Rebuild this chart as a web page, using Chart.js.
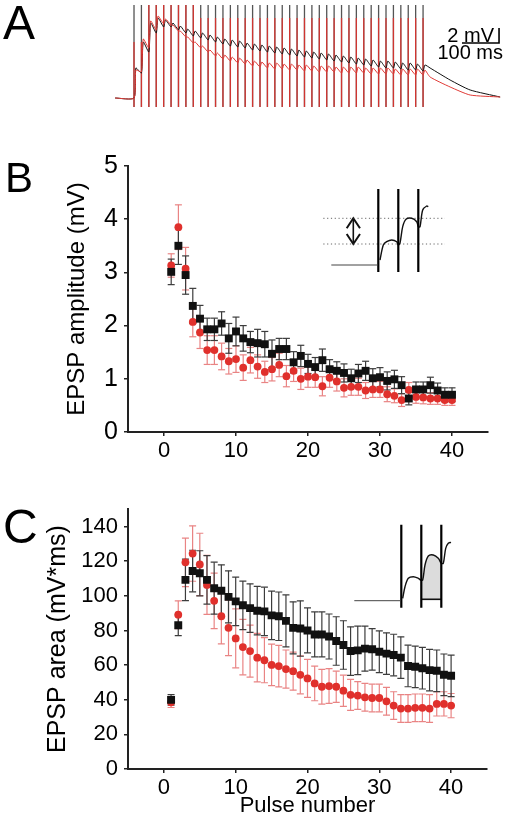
<!DOCTYPE html>
<html><head><meta charset="utf-8">
<script src="https://cdn.jsdelivr.net/npm/chart.js@4.4.1/dist/chart.umd.min.js"></script>
<style>
html,body{margin:0;padding:0;background:#fff;}
body{width:506px;height:826px;overflow:hidden;position:relative;font-family:"Liberation Sans",Arial,sans-serif;}
canvas{position:absolute;}
.lbl{position:absolute;color:#000;line-height:1;white-space:nowrap;}
</style></head><body>
<canvas id="cA" style="left:0;top:0;width:506px;height:110px" width="506" height="110"></canvas>
<canvas id="cB" style="left:0;top:140px;width:506px;height:340px" width="506" height="340"></canvas>
<canvas id="cBi" style="left:318px;top:183px;width:132px;height:94px" width="132" height="94"></canvas>
<canvas id="cC" style="left:0;top:490px;width:506px;height:336px" width="506" height="336"></canvas>
<canvas id="cCi" style="left:350px;top:520px;width:106px;height:92px" width="106" height="92"></canvas>
<div class="lbl" style="left:3px;top:-1px;font-size:48px;">A</div>
<div class="lbl" style="left:5px;top:157px;font-size:42px;">B</div>
<div class="lbl" style="left:3px;top:503px;font-size:48px;">C</div>
<div class="lbl" style="right:12px;top:25px;font-size:20px;">2 mV</div>
<div class="lbl" style="right:3px;top:42px;font-size:20px;">100 ms</div>
<script>
// ---------------- DATA ----------------
const PULSES=[1,2,3,4,5,6,7,8,9,10,11,12,13,14,15,16,17,18,19,20,21,22,23,24,25,26,27,28,29,30,31,32,33,34,35,36,37,38,39,40];
const X_TICKS=[0,10,20,30,40];
const AMP_TICKS=[0,1,2,3,4,5];
const AREA_TICKS=[0,20,40,60,80,100,120,140];

// Panel B: EPSP amplitude (mV)
const AMP_BLACK=[3.01,3.50,2.95,2.37,2.13,1.93,1.93,2.04,1.76,1.89,1.76,1.69,1.67,1.65,1.47,1.56,1.56,1.31,1.43,1.28,1.22,1.35,1.18,1.15,1.11,1.01,1.10,1.15,1.01,1.03,0.96,0.99,0.88,0.63,0.80,0.80,0.88,0.78,0.70,0.70];
const AMP_BLACK_ERR=[0.24,0.35,0.36,0.33,0.25,0.21,0.21,0.22,0.28,0.27,0.24,0.20,0.26,0.24,0.26,0.20,0.20,0.20,0.20,0.18,0.18,0.21,0.18,0.17,0.17,0.17,0.17,0.18,0.18,0.18,0.17,0.17,0.16,0.12,0.14,0.14,0.15,0.14,0.13,0.13];
const AMP_RED=[3.13,3.85,3.07,2.07,1.87,1.54,1.54,1.42,1.33,1.37,1.21,1.35,1.23,1.13,1.18,1.26,1.05,1.15,1.00,1.04,1.03,0.86,1.02,0.95,0.83,0.85,0.85,0.78,0.80,0.80,0.71,0.68,0.60,0.79,0.66,0.65,0.63,0.63,0.60,0.60];
const AMP_RED_ERR=[0.22,0.42,0.40,0.28,0.30,0.27,0.27,0.25,0.24,0.25,0.24,0.24,0.22,0.20,0.22,0.22,0.20,0.20,0.20,0.20,0.19,0.18,0.18,0.18,0.17,0.16,0.16,0.15,0.15,0.15,0.14,0.13,0.12,0.14,0.12,0.12,0.11,0.11,0.10,0.10];

// Panel C: EPSP area (mV*ms)
const AREA_BLACK=[39.9,83.0,109.2,114.3,113.0,109.2,104.4,102.9,99.4,96.8,94.5,92.9,91.4,91.0,88.7,88.2,85.5,81.5,81.1,80.0,77.7,77.7,76.5,73.9,71.6,68.1,68.5,69.5,69.1,67.7,66.6,65.8,64.3,59.5,59.0,58.2,57.1,56.7,54.4,53.8];
const AREA_BLACK_ERR=[3,6,12,12,13,14,15,15,15,14,14,14,14,14,14,14,15,15,16,13,13,13,13,14,14,14,14,13,12,12,12,12,12,12,12,12,12,12,12,12];
const AREA_RED=[38.5,89.1,119.3,124.4,118.1,106.3,97.1,88.2,81.5,75.4,70.4,68.1,64.3,62.8,60.1,59.4,57.7,56.5,54.4,52.3,49.4,47.5,47.9,47.5,45.2,42.8,42.4,41.4,41.0,41.0,39.1,36.6,34.9,34.9,35.3,35.3,34.9,37.6,37.6,36.6];
const AREA_RED_ERR=[3,8,14,16,18,17,16,16,16,17,16,15,14,13,12,12,11,11,11,11,10,10,10,9,9,9,8,8,8,8,8,8,8,8,8,8,8,7,7,7];

// Panel A: example traces (mV vs ms), 50 Hz train
const STIM_INTERVAL_MS=20;
const RISE_MS=5;
const PRE_T=-51;
const TRACE_BLACK_PEAK=[4.00,7.47,10.00,10.67,10.40,10.00,9.60,9.20,8.93,8.67,8.40,8.13,7.87,7.73,7.60,7.33,7.20,7.07,6.93,6.80,6.67,6.53,6.40,6.27,6.13,6.00,5.87,5.73,5.60,5.47,5.33,5.20,5.07,4.93,4.93,4.80,4.67,4.67,4.53,4.40];
const TRACE_BLACK_TROUGH=[3.33,6.13,8.67,9.47,9.47,9.07,8.67,8.27,8.00,7.73,7.47,7.20,6.93,6.80,6.67,6.40,6.27,6.13,6.00,5.87,5.73,5.60,5.47,5.33,5.20,5.07,4.93,4.80,4.67,4.53,4.40,4.27,4.13,4.00,4.00,3.87,3.73,3.73,3.60,3.47];
const TRACE_RED_PEAK=[3.73,7.87,10.27,10.93,10.53,9.73,8.93,8.13,7.47,6.93,6.40,6.00,5.73,5.47,5.33,5.07,4.93,4.80,4.67,4.67,4.53,4.53,4.40,4.40,4.27,4.27,4.27,4.13,4.13,4.13,4.13,4.00,4.00,4.00,4.00,3.87,3.87,3.87,3.87,3.73];
const TRACE_RED_TROUGH=[3.47,6.67,9.07,9.87,9.73,8.93,8.13,7.33,6.67,6.13,5.60,5.20,4.93,4.67,4.53,4.27,4.13,4.00,3.87,3.87,3.73,3.73,3.60,3.60,3.47,3.47,3.47,3.33,3.33,3.33,3.33,3.20,3.20,3.20,3.20,3.07,3.07,3.07,3.07,2.93];
const DECAY_T=[799,853,907,988];
const DECAY_BLACK=[4.0,2.4,1.07,0.13];
const DECAY_RED=[2.8,1.47,0.4,0.13];
const SPIKE_LOW=-1.2, SPIKE_HIGH=12.4;
const RED_SPIKE_TOP=[7.47,7.47,12.4,12.4,12.4,12.4,12.4,12.4,12.4,10.67,10.67,10.67,10.67,10.67,10.67,10.67,10.67,10.67,10.67,10.67,10.67,10.67,10.67,10.67,10.67,10.67,10.67,10.67,10.67,10.67,10.67,10.67,10.67,10.67,10.67,10.67,10.67,10.67,10.67,10.67];
const SCALEBAR_T=[885,985,985];
const SCALEBAR_V=[7.33,7.33,9.33];

// Insets (ms, mV)
const INSET_BASE_T=[-47,-1];
const INSET_SPIKES_T=[0,20,40];
const INSET_SPIKE_RANGE=[-0.7,7.6];
const INSET_B_T=[1.7,5,8.4,13.4,18.4,20, 21.7,24.4,27.7,33.4,38.4,40, 41.7,44.4,48.4,50];
const INSET_B_V=[0.5,2.0,2.33,2.5,2.33,2.0, 2.2,3.83,4.57,4.67,4.33,3.83, 3.83,5.5,5.9,5.83];
const INSET_B_LEVELS=[2.1,4.67];
const INSET_B_LEVEL_T=[-55,66.7];
const INSET_B_ARROW_T=[-31.6,-25,-18.3];
const INSET_C_T=[1.4,3.7,7,12,17,19.4, 21.4,23.7,27,32,37,40, 42,44.4,47,49.7];
const INSET_C_V=[0.24,1.4,2.24,2.4,2.24,2.07, 2.07,3.57,4.47,4.57,4.24,3.74, 3.74,5.24,5.74,5.84];
const INSET_C_FLOOR=0.14;

// ---------------- HELPERS ----------------
Chart.defaults.font.family='"Liberation Sans", Arial, sans-serif';
Chart.defaults.color='#000';
const RED='#e0302c', RED_ERR='#e98484', BLK='#111', BLK_ERR='#3c3c3c';

function buildTrace(peaks,troughs,decT,decV){
  const pts=[{x:PRE_T,y:0},{x:0,y:0}];
  PULSES.forEach((n,i)=>{
    const t0=(n-1)*STIM_INTERVAL_MS;
    pts.push({x:t0+RISE_MS,y:peaks[i]});
    if(i<PULSES.length-1) pts.push({x:t0+STIM_INTERVAL_MS,y:troughs[i]});
  });
  decT.forEach((t,k)=>pts.push({x:t,y:decV[k]}));
  return pts;
}
function buildSpikes(tops){
  const pts=[];
  PULSES.forEach((n,i)=>{
    const t=(n-1)*STIM_INTERVAL_MS;
    pts.push({x:t,y:SPIKE_LOW},{x:t,y:tops[i]},{x:t,y:null});
  });
  return pts;
}
function stems(vals,errs){
  const pts=[];
  PULSES.forEach((n,i)=>{pts.push({x:n,y:vals[i]-errs[i]},{x:n,y:vals[i]+errs[i]},{x:n,y:null});});
  return pts;
}
function caps(vals,errs){
  const pts=[];
  PULSES.forEach((n,i)=>{pts.push({x:n,y:vals[i]-errs[i]},{x:n,y:vals[i]+errs[i]});});
  return pts;
}
function pts(vals){return PULSES.map((n,i)=>({x:n,y:vals[i]}));}

const baseOpts={responsive:false,animation:false,events:[],plugins:{legend:{display:false},tooltip:{enabled:false}}};

// ---------------- PANEL A ----------------
new Chart(document.getElementById('cA'),{
  type:'scatter',
  data:{datasets:[
    {data:buildTrace(TRACE_RED_PEAK,TRACE_RED_TROUGH,DECAY_T,DECAY_RED),showLine:true,borderColor:'#e03a36',borderWidth:1,pointRadius:0,tension:0.2},
    {data:buildTrace(TRACE_BLACK_PEAK,TRACE_BLACK_TROUGH,DECAY_T,DECAY_BLACK),showLine:true,borderColor:'#111',borderWidth:1,pointRadius:0,tension:0.2},
    {data:buildSpikes(RED_SPIKE_TOP),showLine:true,borderColor:'rgba(222,50,45,0.9)',borderWidth:1.3,pointRadius:0,spanGaps:false},
    {data:buildSpikes(PULSES.map(()=>SPIKE_HIGH)),showLine:true,borderColor:'#555',borderWidth:1.3,pointRadius:0,spanGaps:false},
    {data:SCALEBAR_T.map((t,i)=>({x:t,y:SCALEBAR_V[i]})),showLine:true,borderColor:'#000',borderWidth:1.6,pointRadius:0}
  ]},
  options:{...baseOpts,
    layout:{padding:{left:115,right:4,top:5,bottom:3}},
    scales:{x:{type:'linear',display:false,min:-51.3,max:993},y:{display:false,min:SPIKE_LOW,max:SPIKE_HIGH}}
  }
});

// ---------------- PANELS B & C ----------------
function axisCommon(){
  return {
    grid:{drawOnChartArea:false,drawTicks:true,tickLength:4,color:'#222',lineWidth:1.5},
    border:{display:true,color:'#222',width:2}
  };
}
function errorChart(id,vals1,err1,vals2,err2,yMin,yMax,yTicks,yTitle,opts){
  return new Chart(document.getElementById(id),{
    type:'scatter',
    data:{datasets:[
      {data:pts(vals1),pointStyle:'rect',pointRadius:5.6,backgroundColor:BLK,borderColor:BLK,borderWidth:0},
      {data:pts(vals2),pointStyle:'circle',pointRadius:3.9,backgroundColor:RED,borderColor:RED,borderWidth:0},
      {data:caps(vals1,err1),pointStyle:'line',pointRadius:3.5,borderColor:BLK_ERR,borderWidth:1.2,showLine:false},
      {data:stems(vals1,err1),showLine:true,pointRadius:0,borderColor:BLK_ERR,borderWidth:1.2,spanGaps:false},
      {data:caps(vals2,err2),pointStyle:'line',pointRadius:3.5,borderColor:RED_ERR,borderWidth:1.2,showLine:false},
      {data:stems(vals2,err2),showLine:true,pointRadius:0,borderColor:RED_ERR,borderWidth:1.2,spanGaps:false}
    ]},
    options:{...baseOpts,
      layout:{padding:opts.padding},
      scales:{
        x:{type:'linear',min:-5,max:45,...axisCommon(),
          afterBuildTicks:s=>{s.ticks=X_TICKS.map(v=>({value:v}));},
          afterFit:s=>{s.height=opts.xHeight;},
          ticks:{font:{size:22},padding:opts.xTickPad,maxRotation:0},
          title:opts.xTitle},
        y:{type:'linear',min:yMin,max:yMax,...axisCommon(),
          afterBuildTicks:s=>{s.ticks=yTicks.map(v=>({value:v}));},
          afterFit:s=>{s.width=128;},
          ticks:{font:{size:opts.yTickSize},padding:6},
          title:{display:true,text:yTitle,font:{size:opts.yTitleSize},padding:{top:opts.yTitlePad,bottom:0}}}
      }
    }
  });
}
errorChart('cB',AMP_BLACK,AMP_BLACK_ERR,AMP_RED,AMP_RED_ERR,0,5,AMP_TICKS,'EPSP amplitude (mV)',
  {padding:{top:26,right:18,left:0,bottom:0},xHeight:48,xTickPad:2,yTickSize:25,yTitleSize:24,yTitlePad:62.6,xTitle:{display:false}});
errorChart('cC',AREA_BLACK,AREA_BLACK_ERR,AREA_RED,AREA_RED_ERR,0,150,AREA_TICKS,'EPSP area (mV*ms)',
  {padding:{top:17,right:19,left:0,bottom:0},xHeight:57,xTickPad:2,yTickSize:22,yTitleSize:25,yTitlePad:43,
   xTitle:{display:true,text:'Pulse number',font:{size:22},padding:{top:0,bottom:7}}});

// ---------------- INSETS ----------------
function insetBase(){
  const ds=[
    {data:INSET_BASE_T.map(t=>({x:t,y:0})),showLine:true,borderColor:'#444',borderWidth:1,pointRadius:0},
    {data:INSET_SPIKES_T.flatMap(t=>[{x:t,y:INSET_SPIKE_RANGE[0]},{x:t,y:INSET_SPIKE_RANGE[1]},{x:t,y:null}]),showLine:true,borderColor:'#000',borderWidth:2.2,pointRadius:0,spanGaps:false}
  ];
  return ds;
}
new Chart(document.getElementById('cBi'),{
  type:'scatter',
  data:{datasets:[
    ...insetBase(),
    {data:INSET_B_T.map((t,i)=>({x:t,y:INSET_B_V[i]})),showLine:true,borderColor:'#111',borderWidth:1.4,pointRadius:0,tension:0.3},
    {data:INSET_B_LEVELS.flatMap(v=>[{x:INSET_B_LEVEL_T[0],y:v},{x:INSET_B_LEVEL_T[1],y:v},{x:INSET_B_LEVEL_T[1],y:null}]),showLine:true,borderColor:'#666',borderWidth:1,borderDash:[1.2,2.6],pointRadius:0,spanGaps:false},
    {data:[{x:INSET_B_ARROW_T[1],y:INSET_B_LEVELS[0]},{x:INSET_B_ARROW_T[1],y:INSET_B_LEVELS[1]}],showLine:true,borderColor:'#111',borderWidth:1.6,pointRadius:0},
    {data:[{x:INSET_B_ARROW_T[0],y:INSET_B_LEVELS[1]-1},{x:INSET_B_ARROW_T[1],y:INSET_B_LEVELS[1]},{x:INSET_B_ARROW_T[2],y:INSET_B_LEVELS[1]-1}],showLine:true,borderColor:'#111',borderWidth:2,pointRadius:0},
    {data:[{x:INSET_B_ARROW_T[0],y:INSET_B_LEVELS[0]+1},{x:INSET_B_ARROW_T[1],y:INSET_B_LEVELS[0]},{x:INSET_B_ARROW_T[2],y:INSET_B_LEVELS[0]+1}],showLine:true,borderColor:'#111',borderWidth:2,pointRadius:0}
  ]},
  options:{...baseOpts,layout:{padding:0},scales:{x:{type:'linear',display:false,min:-60.3,max:71.7},y:{display:false,min:-1.2,max:8.2}}}
});
const shadeIdx=INSET_C_T.map((t,i)=>i).filter(i=>INSET_C_T[i]>=INSET_SPIKES_T[1]&&INSET_C_T[i]<=INSET_SPIKES_T[2]);
new Chart(document.getElementById('cCi'),{
  type:'scatter',
  data:{datasets:[
    ...insetBase(),
    {data:INSET_C_T.map((t,i)=>({x:t,y:INSET_C_V[i]})),showLine:true,borderColor:'#111',borderWidth:1.4,pointRadius:0,tension:0.3},
    {data:[{x:INSET_SPIKES_T[1],y:INSET_C_FLOOR},{x:INSET_SPIKES_T[2],y:INSET_C_FLOOR}],showLine:true,borderColor:'#111',borderWidth:1.6,pointRadius:0},
    {data:[{x:INSET_SPIKES_T[1],y:INSET_C_V[shadeIdx[0]]},...shadeIdx.map(i=>({x:INSET_C_T[i],y:INSET_C_V[i]}))],showLine:true,borderWidth:0,borderColor:'rgba(0,0,0,0)',backgroundColor:'#dcdcdc',fill:{value:INSET_C_FLOOR},pointRadius:0,tension:0.3}
  ]},
  options:{...baseOpts,layout:{padding:0},scales:{x:{type:'linear',display:false,min:-51.3,max:54.7},y:{display:false,min:-1.13,max:8.07}}}
});
</script>
</body></html>
